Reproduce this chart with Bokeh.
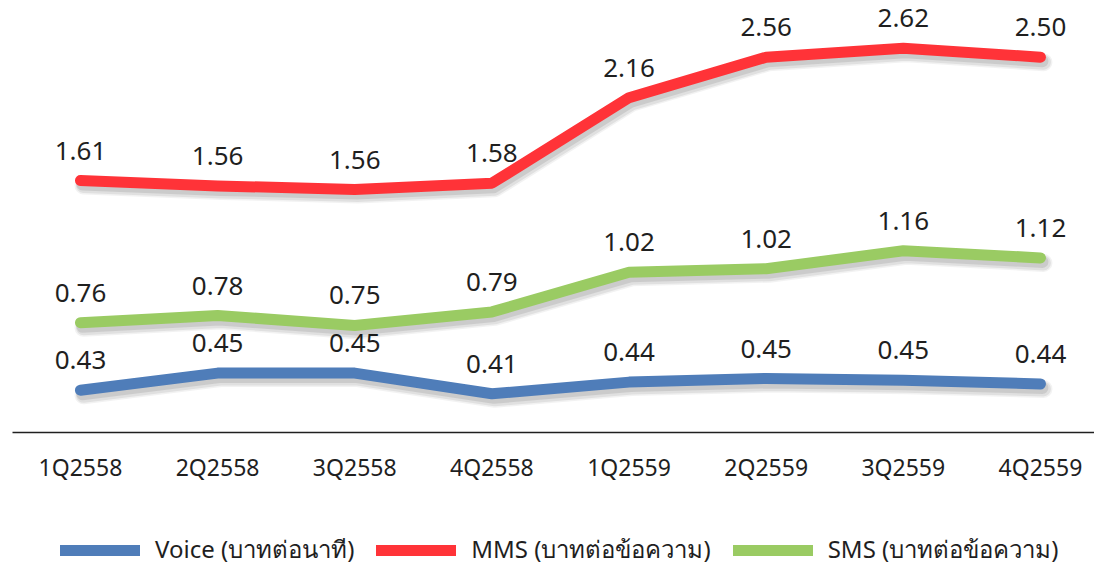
from bokeh.plotting import figure
from bokeh.models import Range1d, FixedTicker, Legend, LegendItem, ColumnDataSource, LinearAxis
from bokeh.core.properties import value
from bokeh.embed import file_html
from bokeh.resources import INLINE

# ---- data -------------------------------------------------------------
quarters = ["1Q2558", "2Q2558", "3Q2558", "4Q2558", "1Q2559", "2Q2559", "3Q2559", "4Q2559"]

# values printed on the chart
voice_labels = [0.43, 0.45, 0.45, 0.41, 0.44, 0.45, 0.45, 0.44]
sms_labels = [0.76, 0.78, 0.75, 0.79, 1.02, 1.02, 1.16, 1.12]
mms_labels = [1.61, 1.56, 1.56, 1.58, 2.16, 2.56, 2.62, 2.50]

# line levels as drawn in the picture (stacked chart units)
voice_drawn = [0.47, 0.66, 0.66, 0.43, 0.56, 0.60, 0.58, 0.54]
sms_drawn = [1.22, 1.30, 1.19, 1.34, 1.78, 1.82, 2.02, 1.94]
mms_drawn = [2.80, 2.74, 2.70, 2.77, 3.72, 4.17, 4.27, 4.17]

series_names = ["Voice (บาทต่อนาที)", "MMS (บาทต่อข้อความ)", "SMS (บาทต่อข้อความ)"]
colors = ["#4F7DB9", "#FF3338", "#9ACB63"]

FONT = "Noto Sans"
TXT = "#1f1f1f"

xs = list(range(len(quarters)))

X0, X1 = -0.583, 7.394
Y0, Y1 = -1.511, 4.8
W, H = 1094, 568

p = figure(width=W, height=H, output_backend="svg", toolbar_location=None,
           x_range=Range1d(X0, X1), y_range=Range1d(Y0, Y1),
           x_axis_location=None, y_axis_location=None,
           min_border_left=0, min_border_right=0, min_border_top=0, min_border_bottom=0)
p.outline_line_color = None
p.grid.visible = False
p.background_fill_color = "white"
p.border_fill_color = "white"

ax = LinearAxis(fixed_location=0, bounds=(-0.496, X1))
ax.ticker = FixedTicker(ticks=xs)
ax.major_label_overrides = {i: q for i, q in enumerate(quarters)}
ax.major_tick_line_color = None
ax.minor_tick_line_color = None
ax.axis_line_color = "#202020"
ax.axis_line_width = 1.3
ax.major_label_text_font = FONT
ax.major_label_text_font_size = "23px"
ax.major_label_text_color = TXT
ax.major_label_standoff = 12
p.add_layout(ax, "below")

# px -> data conversion for shadow offsets
px_x = (X1 - X0) / W
px_y = (Y1 - Y0) / H

renderers = []
for drawn, labels, col in [(voice_drawn, voice_labels, colors[0]),
                           (mms_drawn, mms_labels, colors[1]),
                           (sms_drawn, sms_labels, colors[2])]:
    # soft shadow
    for w, a, dx, dy in [(18, 0.05, 3, 5), (15, 0.07, 3, 5), (12, 0.09, 2, 4)]:
        p.line([x + dx * px_x for x in xs], [y - dy * px_y for y in drawn],
               line_width=w, line_color="black", line_alpha=a,
               line_cap="round", line_join="round")
    r = p.line(xs, drawn, line_width=11, line_color=col,
               line_cap="round", line_join="round")
    renderers.append(r)
    src = ColumnDataSource(dict(x=xs, y=drawn, t=[f"{v:.2f}" for v in labels]))
    p.text(x="x", y="y", text="t", source=src, text_align="center",
           text_baseline="middle", y_offset=-30, text_font=value(FONT),
           text_font_size="26px", text_color=TXT)

legend = Legend(items=[LegendItem(label=n, renderers=[r]) for n, r in zip(series_names, renderers)],
                orientation="horizontal", location=(60, -1),
                glyph_width=80, glyph_height=12, label_standoff=15, spacing=22,
                label_height=30,
                label_text_font=FONT, label_text_font_size="24px", label_text_color=TXT,
                border_line_color=None, background_fill_alpha=0, padding=0, margin=0)
p.add_layout(legend, "center")

open("out.html", "w").write(file_html(p, INLINE))
